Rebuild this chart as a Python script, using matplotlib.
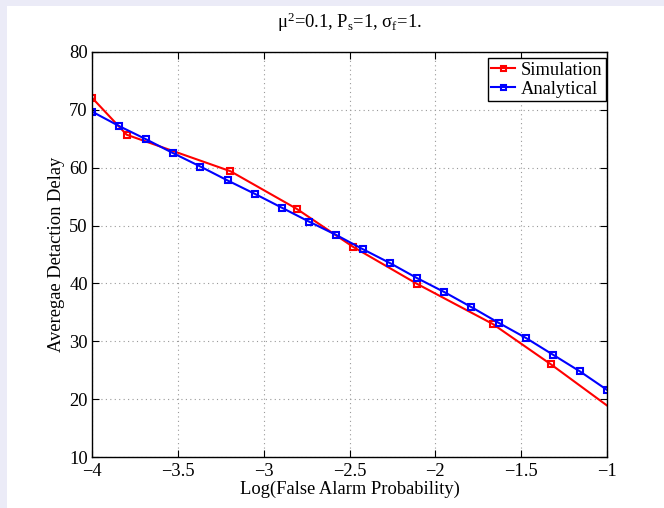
import numpy as np
import matplotlib
matplotlib.use('Agg')
import matplotlib.pyplot as plt
from matplotlib.patches import Rectangle

plt.rcParams['font.family'] = ['Liberation Serif', 'DejaVu Serif']
plt.rcParams['mathtext.fontset'] = 'custom'
plt.rcParams['mathtext.rm'] = 'Liberation Serif'
plt.rcParams['mathtext.it'] = 'Liberation Serif'
plt.rcParams['mathtext.default'] = 'rm'

# simulation results
sim_x = [-4.0, -3.798, -3.194, -2.808, -2.478, -2.105, -1.666, -1.326, -1.0]
sim_y = [72.1, 65.7, 59.4, 52.9, 46.3, 39.9, 33.0, 26.0, 18.9]

# analytical curve
ana_x = np.linspace(-4, -1, 20)
ana_y = [69.7, 67.2, 64.9, 62.5, 60.2, 57.8, 55.5, 53.1, 50.7, 48.4,
         45.9, 43.5, 40.9, 38.5, 35.9, 33.2, 30.6, 27.7, 24.8, 21.6]

fig = plt.figure(figsize=(6.64, 5.08), dpi=100)
fig.patch.set_facecolor('#ebebf7')
fig.patches.append(Rectangle((7/664, 0), 1, 1 - 6/508, transform=fig.transFigure,
                             facecolor='white', edgecolor='none', zorder=-1))

ax = fig.add_axes([92/664, 1 - 457/508, 515/664, 405/508])
ax.plot(sim_x, sim_y, color='red', lw=1.5, marker='s', ms=4.5, mfc='none', mew=1.5,
        markevery=list(range(len(sim_x) - 1)), label='Simulation')
ax.plot(ana_x, ana_y, color='blue', lw=1.5, marker='s', ms=4.5, mfc='none', mew=1.5,
        label='Analytical')

ax.set_xlim(-4, -1)
ax.set_ylim(10, 80)
ax.set_xticks(np.arange(-4, -0.99, 0.5))
ax.set_xticklabels(['\u22124', '\u22123.5', '\u22123', '\u22122.5', '\u22122', '\u22121.5', '\u22121'])
ax.set_yticks(range(10, 81, 10))
ax.tick_params(direction='in', top=True, right=True, labelsize=13.3, length=5)
ax.tick_params(axis='x', pad=4)
ax.tick_params(axis='y', pad=3)
ax.grid(True, linestyle=(0, (1, 3)), color='#999999', lw=0.8)
for s in ax.spines.values():
    s.set_linewidth(1.0)

ax.set_xlabel('Log(False Alarm Probability)', fontsize=13.3, labelpad=0.5)
ax.set_ylabel('Averegae Detaction Delay', fontsize=13.3, labelpad=3)
ax.set_title('\u03bc$^2$=0.1, P$_s$=1, \u03c3$_f$=1.', fontsize=13.3, pad=17)

leg = ax.legend(loc='upper right', bbox_to_anchor=(0.998, 0.985), fontsize=13.3,
                fancybox=False, framealpha=1, edgecolor='black', handlelength=1.3,
                handletextpad=0.3, borderpad=0.2, labelspacing=0.1, borderaxespad=0,
                markerscale=0.8)
leg.get_frame().set_linewidth(1.0)

fig.savefig('out.png', dpi=100, facecolor=fig.get_facecolor())
